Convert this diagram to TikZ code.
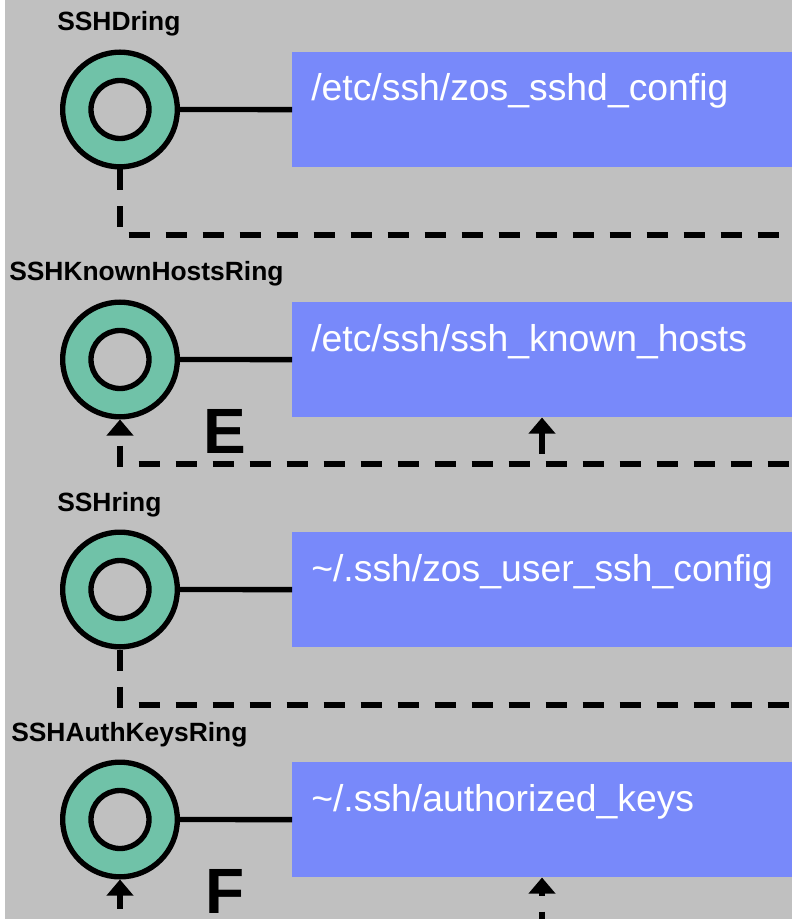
\documentclass[tikz,border=0pt]{standalone}
\usepackage{fontspec}
\setmainfont{Liberation Sans}
\usetikzlibrary{arrows.meta}
\definecolor{bggray}{RGB}{192,192,192}
\definecolor{ringteal}{RGB}{112,194,168}
\definecolor{fileblue}{RGB}{120,137,250}

\begin{document}
\begin{tikzpicture}[x=0.75pt,y=0.75pt,yscale=-1,xscale=1,
  keyring/.style={circle,draw,fill=ringteal,line width=4pt,minimum size=86pt,inner sep=0pt},
  ringhole/.style={draw,fill=bggray,line width=4pt},
  filebox/.style={rectangle,fill=fileblue,minimum width=375pt,minimum height=86.25pt,inner sep=0pt,anchor=north west},
  filetext/.style={anchor=base west,inner sep=0pt,text=white,font=\fontsize{28}{32}\selectfont},
  ringlabel/.style={anchor=base west,inner sep=0pt,font=\fontsize{19.8}{22}\selectfont\bfseries},
  bigletter/.style={anchor=base west,inner sep=0pt,font=\fontsize{48}{52}\selectfont\bfseries},
  tie/.style={line width=4pt},
  dashlink/.style={line width=4pt,dash pattern=on 15.75pt off 12pt},
  uptip/.style={{Triangle[length=12pt,width=19.5pt]}-}
]
\useasboundingbox (0,0) rectangle (792,919);
%Shape: Rectangle
\fill[bggray] (5,0) rectangle (792,919);

%Shape: Rectangle
\node[filebox] (b1) at (292,52) {};
\node[filebox] (b2) at (292,302) {};
\node[filebox] (b3) at (292,532) {};
\node[filebox] (b4) at (292,762) {};

%Shape: Circle
\node[keyring] (r1) at (120,109.5) {};
\draw[ringhole] (r1.center) circle [radius=29];
\node[keyring] (r2) at (120,359.5) {};
\draw[ringhole] (r2.center) circle [radius=29];
\node[keyring] (r3) at (120,589.5) {};
\draw[ringhole] (r3.center) circle [radius=29];
\node[keyring] (r4) at (120,819.5) {};
\draw[ringhole] (r4.center) circle [radius=29];

%Corners of the dashed lines
\coordinate (c1) at (120,235);
\coordinate (e1) at (792,235);
\coordinate (c2) at (120,464);
\coordinate (e2) at (792,464);
\coordinate (j2) at (542,464);
\coordinate (c3) at (120,705);
\coordinate (e3) at (792,705);
\coordinate (c4) at (120,919);
\coordinate (j4) at (542,919);

%Straight Lines
\draw[tie] (r1) -- (b1);
\draw[tie] (r2) -- (b2);
\draw[tie] (r3) -- (b3);
\draw[tie] (r4) -- (b4);

%Dashed Lines
\draw[dashlink] (r1) -- (c1) -- (e1);
\draw[dashlink,uptip,dash phase=19.5pt] (r2) -- (c2) -- (e2);
\draw[dashlink,uptip] (b2.south -| j2) -- (j2);
\draw[dashlink] (r3) -- (c3) -- (e3);
\draw[dashlink,uptip,dash phase=5.25pt] (r4) -- (c4);
\draw[dashlink,uptip,dash phase=13.5pt] (b4.south -| j4) -- (j4);

% Text Node
\node[ringlabel] (l1) at (57,31) {SSHDring};
% Text Node
\node[ringlabel] (l2) at (9,281) {SSHKnownHostsRing};
% Text Node
\node[ringlabel] (l3) at (57,511) {SSHring};
% Text Node
\node[ringlabel] (l4) at (11,741) {SSHAuthKeysRing};

% Text Node
\node[filetext] (t1) at (311,101) {/etc/ssh/zos\_sshd\_config};
% Text Node
\node[filetext] (t2) at (311,351) {/etc/ssh/ssh\_known\_hosts};
% Text Node
\node[filetext] (t3) at (311,581) {\textasciitilde/.ssh/zos\_user\_ssh\_config};
% Text Node
\node[filetext] (t4) at (311,811) {\textasciitilde/.ssh/authorized\_keys};

% Text Node
\node[bigletter] (le) at (203,453) {E};
% Text Node
\node[bigletter] (lf) at (205,913) {F};

\end{tikzpicture}
\end{document}
